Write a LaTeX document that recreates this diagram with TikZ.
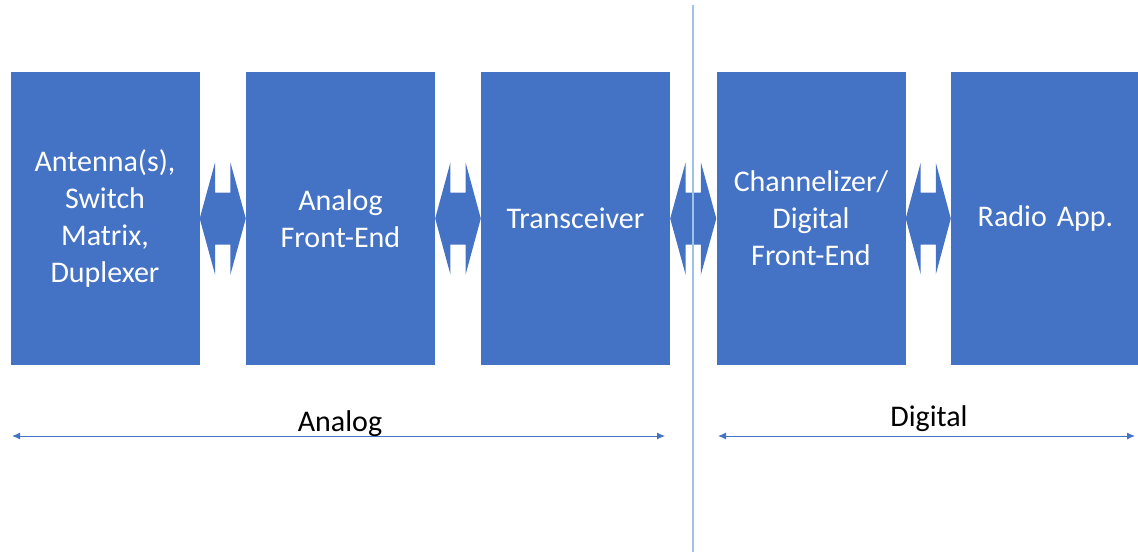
\documentclass[tikz,border=0pt]{standalone}
\usepackage{fontspec}
\setmainfont{Carlito}
\usetikzlibrary{arrows.meta,calc}
\definecolor{boxblue}{HTML}{4472C4}
\definecolor{splitblue}{HTML}{9DC3E6}

\tikzset{
  block/.style={fill=boxblue, text=white, minimum width=189pt, minimum height=293pt,
    inner sep=0pt, text width=175pt, align=center, font=\fontsize{30}{37}\selectfont},
  span/.style={draw=boxblue, line width=1pt, {Latex[length=8pt,width=7pt]}-{Latex[length=8pt,width=7pt]}},
  spanlabel/.style={font=\fontsize{30}{37}\selectfont, inner sep=0pt}
}

\newcommand{\linkarrow}[2]{%
\fill [boxblue] let \p1=(#1.east), \p2=(#2.west), \n1={(\x2-\x1)/3} in
  (\p1) -- (\x1+\n1,\y1+56pt) -- (\x1+\n1,\y1+26pt) -- (\x2-\n1,\y1+26pt)
  -- (\x2-\n1,\y1+56pt) -- (\p2) -- (\x2-\n1,\y1-56pt) -- (\x2-\n1,\y1-26pt)
  -- (\x1+\n1,\y1-26pt) -- (\x1+\n1,\y1-56pt) -- cycle;}

\begin{document}
\begin{tikzpicture}[x=1pt,y=-1pt]
\useasboundingbox (0,0) rectangle (1138,552);
\node [block] (ant) at (105,218.5) {Antenna(s),\\Switch\\Matrix,\\Duplexer};
\node [block] (afe) at (340.5,218.5) {Analog\\Front-End};
\node [block] (trx) at (575.5,218.5) {Transceiver};
\node [block] (dfe) at (811,218.5) {Channelizer/\\Digital\\Front-End};
\node [block] (app) at (1045.5,218.5) {Radio App.};
\linkarrow{ant}{afe}
\linkarrow{afe}{trx}
\linkarrow{trx}{dfe}
\linkarrow{dfe}{app}
\draw [splitblue, line width=1.2pt] (693,5) -- (693,552);
\coordinate (analogl) at (12,436);
\coordinate (analogr) at (665,436);
\coordinate (digitall) at (718,436);
\coordinate (digitalr) at (1135,436);
\draw [span] (analogl) -- (analogr);
\draw [span] (digitall) -- (digitalr);
\node [spanlabel] (analog) at (340,424) {Analog};
\node [spanlabel] (digital) at (929,419) {Digital};
\end{tikzpicture}
\end{document}
